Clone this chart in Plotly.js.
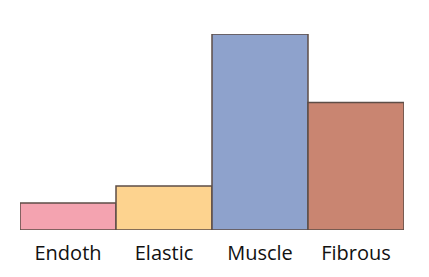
<!DOCTYPE html>
<html>
<head>
<meta charset="utf-8">
<script src="https://cdn.plot.ly/plotly-3.0.1.min.js"></script>
<style>html,body{margin:0;padding:0;background:#fff;}#chart{width:429px;height:277px;}</style>
</head>
<body>
<div id="chart"></div>
<script>
var categories = ["Endoth", "Elastic", "Muscle", "Fibrous"];
var values = [13.8, 22.4, 100, 65];
var colors = ["#F4A3B0", "#FDD38F", "#8EA2CC", "#C98571"];

var trace = {
  type: "bar",
  x: categories,
  y: values,
  marker: {color: colors, line: {color: "#5E4E47", width: 1.5}},
  hoverinfo: "none"
};
var layout = {
  width: 429, height: 277,
  margin: {l: 20, r: 25, t: 34, b: 47},
  bargap: 0,
  paper_bgcolor: "#fff", plot_bgcolor: "#fff",
  showlegend: false,
  xaxis: {showgrid: false, zeroline: false, showline: false, ticks: "",
          tickfont: {family: "Open Sans, sans-serif", size: 20, color: "#111"}, ticklabelstandoff: 9},
  yaxis: {range: [0, 100], visible: false, showgrid: false, zeroline: false}
};
Plotly.newPlot("chart", [trace], layout, {staticPlot: true, displayModeBar: false});
</script>
</body>
</html>
